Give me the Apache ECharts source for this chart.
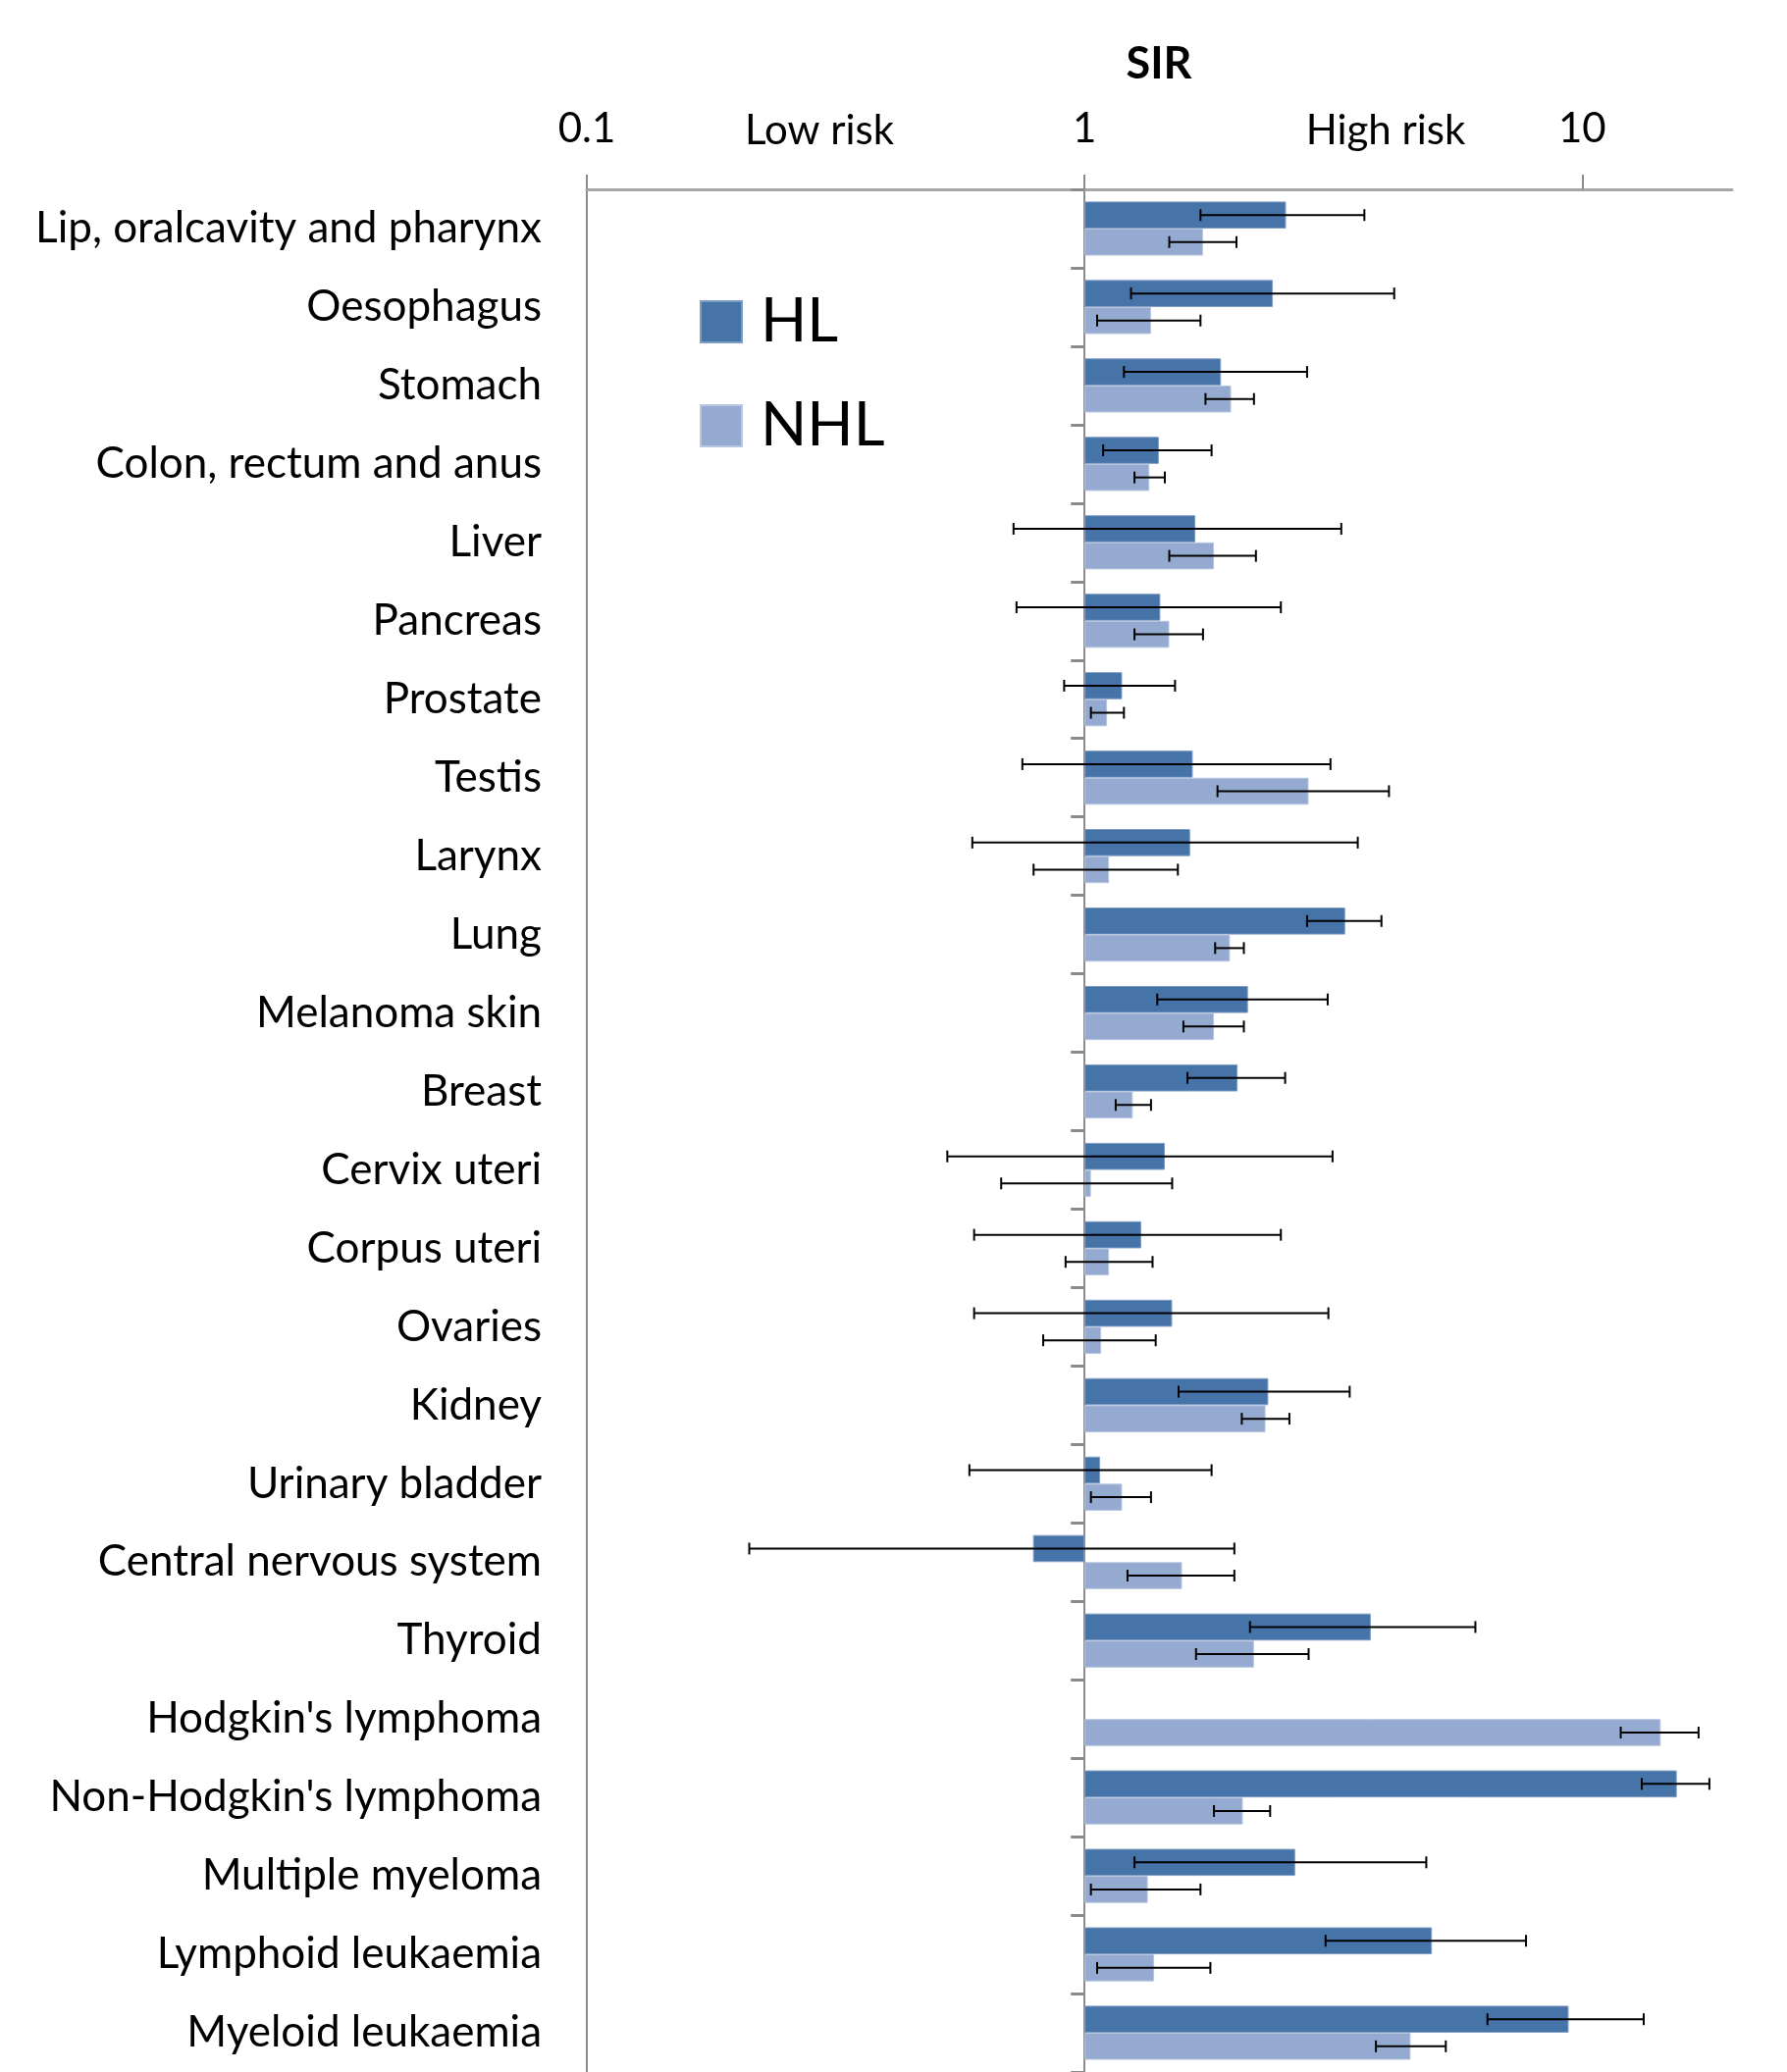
<!DOCTYPE html>
<html>
<head>
<meta charset="utf-8">
<title>SIR of second cancers after HL and NHL</title>
<script src="https://cdn.jsdelivr.net/npm/echarts@6/dist/echarts.min.js"></script>
<style>
  html, body { margin: 0; padding: 0; background: #ffffff; }
  #chart { width: 1821px; height: 2112px; }
</style>
</head>
<body>
<div id="chart"></div>
<script>
// Cancer sites, listed top to bottom
const categories = [
  'Lip, oralcavity and pharynx', 'Oesophagus', 'Stomach', 'Colon, rectum and anus',
  'Liver', 'Pancreas', 'Prostate', 'Testis', 'Larynx', 'Lung', 'Melanoma skin',
  'Breast', 'Cervix uteri', 'Corpus uteri', 'Ovaries', 'Kidney', 'Urinary bladder',
  'Central nervous system', 'Thyroid', "Hodgkin's lymphoma", "Non-Hodgkin's lymphoma",
  'Multiple myeloma', 'Lymphoid leukaemia', 'Myeloid leukaemia'
];

// Standardised incidence ratios with 95% confidence limits
const hlSir  = [2.54, 2.39, 1.88, 1.41, 1.67, 1.42, 1.19, 1.65, 1.63, 3.34, 2.13, 2.03, 1.45, 1.30, 1.50, 2.34, 1.075, 0.788, 3.76, null, 15.49, 2.65, 4.99, 9.39];
const hlLow  = [1.71, 1.24, 1.20, 1.09, 0.72, 0.73, 0.91, 0.75, 0.595, 2.80, 1.40, 1.61, 0.53, 0.60, 0.60, 1.545, 0.587, 0.212, 2.15, null, 13.17, 1.26, 3.05, 6.45];
const hlHigh = [3.65, 4.19, 2.80, 1.80, 3.28, 2.48, 1.52, 3.12, 3.54, 3.95, 3.08, 2.53, 3.15, 2.48, 3.09, 3.41, 1.80, 2.00, 6.10, null, 18.01, 4.86, 7.71, 13.29];

const nhlSir  = [1.73, 1.36, 1.97, 1.35, 1.82, 1.48, 1.11, 2.82, 1.12, 1.96, 1.82, 1.25, 1.03, 1.12, 1.08, 2.31, 1.19, 1.57, 2.19, 14.38, 2.08, 1.34, 1.38, 4.52];
const nhlLow  = [1.48, 1.06, 1.75, 1.26, 1.48, 1.26, 1.03, 1.85, 0.79, 1.83, 1.58, 1.155, 0.68, 0.916, 0.826, 2.07, 1.03, 1.22, 1.675, 11.95, 1.82, 1.03, 1.06, 3.85];
const nhlHigh = [2.02, 1.71, 2.19, 1.45, 2.21, 1.73, 1.20, 4.09, 1.54, 2.09, 2.09, 1.36, 1.50, 1.37, 1.39, 2.58, 1.36, 2.00, 2.82, 17.13, 2.36, 1.71, 1.79, 5.32];

// Axis tick values (log scale)
const xTicks = [0.1, 1, 10];
const xMin = 0.1, xMax = 20;

const FONT = 'Lato';
const HL_COLOR = '#4673A8';
const NHL_COLOR = '#95AAD1';
const GRID = { left: 598, right: 56, top: 193, bottom: 0 };
const CATEGORY_GAP = 0.31;

// Horizontal offset of the reference line at SIR = 1, in pixels from the plot's left edge
const plotWidth = 1821 - GRID.left - GRID.right;
const refOffset = (Math.log10(1) - Math.log10(xMin)) / (Math.log10(xMax) - Math.log10(xMin)) * plotWidth;

function errorData(low, high) {
  const out = [];
  for (let i = 0; i < low.length; i++) {
    if (low[i] != null && high[i] != null) out.push([i, low[i], high[i]]);
  }
  return out;
}

// Whisker with end caps, placed on the centre of its bar (side -1: upper bar, +1: lower bar)
function makeErrorRenderer(side) {
  return function (params, api) {
    const cat = api.value(0);
    const p1 = api.coord([api.value(1), cat]);
    const p2 = api.coord([api.value(2), cat]);
    const band = api.size([0, 1])[1];
    const barW = band * (1 - CATEGORY_GAP) / 2;
    const y = p1[1] + side * barW / 2;
    const cap = 6;
    const style = { stroke: '#000000', lineWidth: 2 };
    return {
      type: 'group',
      children: [
        { type: 'line', shape: { x1: p1[0], y1: y, x2: p2[0], y2: y }, style },
        { type: 'line', shape: { x1: p1[0], y1: y - cap, x2: p1[0], y2: y + cap }, style },
        { type: 'line', shape: { x1: p2[0], y1: y - cap, x2: p2[0], y2: y + cap }, style }
      ]
    };
  };
}

function legendFor(name, top) {
  return {
    data: [name],
    orient: 'vertical',
    left: 713,
    top: top,
    padding: 0,
    icon: 'rect',
    itemWidth: 42,
    itemHeight: 42,
    textStyle: { fontFamily: FONT, fontSize: 62, color: '#000000', padding: [0, 0, 0, 14] }
  };
}

const chart = echarts.init(document.getElementById('chart'), null, { renderer: 'canvas' });

chart.setOption({
  animation: false,
  backgroundColor: '#ffffff',
  textStyle: { fontFamily: FONT },
  grid: GRID,
  legend: [legendFor('HL', 297), legendFor('NHL', 403)],
  graphic: [
    { type: 'text', style: { text: 'SIR', x: 1181, y: 65, align: 'center', verticalAlign: 'middle', font: 'bold 45px ' + FONT, fill: '#000000' } },
    { type: 'text', style: { text: 'Low risk', x: 835, y: 133, align: 'center', verticalAlign: 'middle', font: '42px ' + FONT, fill: '#000000' } },
    { type: 'text', style: { text: 'High risk', x: 1412, y: 133, align: 'center', verticalAlign: 'middle', font: '42px ' + FONT, fill: '#000000' } }
  ],
  xAxis: {
    type: 'log',
    logBase: 10,
    position: 'top',
    min: xMin,
    max: xMax,
    axisLine: { show: true, lineStyle: { color: '#a6a6a6', width: 3 } },
    axisTick: { show: true, length: 15, customValues: xTicks, lineStyle: { color: '#8c8c8c', width: 2 } },
    axisLabel: {
      customValues: xTicks,
      margin: 41,
      fontFamily: FONT,
      fontSize: 42,
      color: '#000000',
      formatter: v => String(v)
    },
    splitLine: { show: true, showMaxLine: false, lineStyle: { color: '#8c8c8c', width: 2 } }
  },
  yAxis: [
    {
      type: 'category',
      data: categories,
      inverse: true,
      position: 'left',
      axisLine: { show: false },
      axisTick: { show: false },
      axisLabel: { margin: 46, fontFamily: FONT, fontSize: 44, color: '#000000' }
    },
    {
      // category ticks drawn on the SIR = 1 reference line
      type: 'category',
      data: categories,
      inverse: true,
      position: 'left',
      offset: -refOffset,
      axisLine: { show: false },
      axisLabel: { show: false },
      axisTick: { show: true, length: 14, lineStyle: { color: '#8c8c8c', width: 3 } }
    }
  ],
  series: [
    {
      name: 'HL',
      type: 'bar',
      data: hlSir,
      yAxisIndex: 0,
      barCategoryGap: (CATEGORY_GAP * 100) + '%',
      barGap: '0%',
      itemStyle: { color: HL_COLOR, borderColor: '#7f9dc4', borderWidth: 1 }
    },
    {
      name: 'NHL',
      type: 'bar',
      data: nhlSir,
      yAxisIndex: 0,
      barCategoryGap: (CATEGORY_GAP * 100) + '%',
      barGap: '0%',
      itemStyle: { color: NHL_COLOR, borderColor: '#b9c6e0', borderWidth: 1 }
    },
    {
      name: 'HL 95% CI',
      type: 'custom',
      yAxisIndex: 0,
      data: errorData(hlLow, hlHigh),
      encode: { y: 0, x: [1, 2] },
      renderItem: makeErrorRenderer(-1),
      z: 5
    },
    {
      name: 'NHL 95% CI',
      type: 'custom',
      yAxisIndex: 0,
      data: errorData(nhlLow, nhlHigh),
      encode: { y: 0, x: [1, 2] },
      renderItem: makeErrorRenderer(1),
      z: 5
    }
  ]
});
</script>
</body>
</html>
